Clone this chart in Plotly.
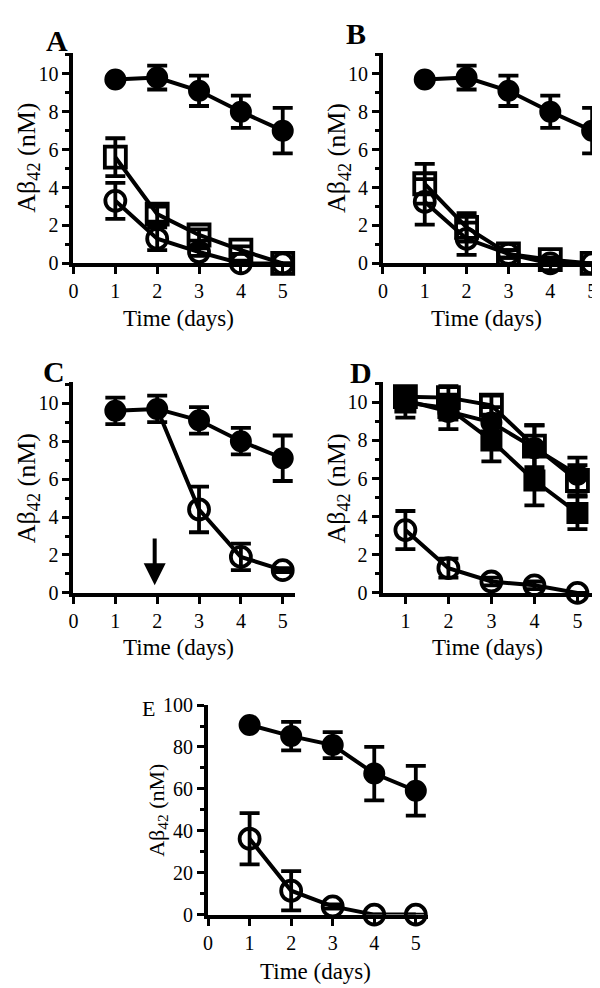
import plotly.graph_objects as go

W, H = 600, 988
days = [1, 2, 3, 4, 5]

# Panel A
a_filled = [9.7, 9.8, 9.1, 8.0, 7.0]
a_filled_err = [0.0, 0.63, 0.8, 0.85, 1.2]
a_sq = [5.6, 2.6, 1.5, 0.7, 0.0]
a_sq_err = [1.0, 0.4, 0.3, 0.2, 0.0]
a_circ = [3.3, 1.3, 0.6, 0.0, 0.0]
a_circ_err = [0.95, 0.6, 0.2, 0.1, 0.0]

# Panel B
b_filled = [9.7, 9.8, 9.1, 8.0, 7.0]
b_filled_err = [0.0, 0.63, 0.8, 0.85, 1.2]
b_sq = [4.2, 1.9, 0.5, 0.2, 0.0]
b_sq_err = [1.05, 0.75, 0.2, 0.1, 0.0]
b_circ = [3.25, 1.3, 0.5, 0.0, 0.0]
b_circ_err = [1.2, 0.85, 0.2, 0.1, 0.0]

# Panel C
c_filled = [9.6, 9.7, 9.1, 8.0, 7.1]
c_filled_err = [0.7, 0.7, 0.7, 0.7, 1.2]
c_open_days = [2, 3, 4, 5]
c_open = [9.7, 4.4, 1.9, 1.2]
c_open_err = [0.0, 1.2, 0.7, 0.1]
c_arrow_day = 1.94
c_arrow_from, c_arrow_to = 2.95, 0.4

# Panel D
d_fsq = [10.0, 9.7, 8.0, 5.9, 4.2]
d_fsq_err = [0.8, 0.6, 1.1, 1.3, 0.85]
d_osq = [10.3, 10.25, 9.85, 7.7, 5.9]
d_osq_err = [0.5, 0.6, 0.5, 1.1, 0.8]
d_fci = [10.1, 9.5, 8.95, 7.6, 6.2]
d_fci_err = [0.5, 0.9, 0.8, 1.2, 0.9]
d_oci = [3.3, 1.3, 0.6, 0.4, 0.0]
d_oci_err = [1.0, 0.5, 0.2, 0.2, 0.0]

# Panel E
e_filled = [90.5, 85.2, 80.9, 67.3, 59.1]
e_filled_err = [0.0, 6.8, 6.2, 12.8, 11.9]
e_open = [36.2, 11.4, 3.9, 0.0, 0.0]
e_open_err = [12.2, 9.4, 1.0, 0.0, 0.0]

x_ticks_full = [0, 1, 2, 3, 4, 5]
y_ticks_small = [0, 2, 4, 6, 8, 10]
y_ticks_big = [0, 20, 40, 60, 80, 100]
xtitle = "Time (days)"
ytitle = "Aβ<sub>42</sub> (nM)"
letters = ["A", "B", "C", "D", "E"]

FONT = "Liberation Serif"
LW = 4


def px_x(p):
    return p / W


def px_y(p):
    return 1 - p / H


def trace(x, y, err, sym, ax, size=None):
    filled = sym in ("circle", "square")
    ms = size if size is not None else (20 if filled else 20)
    return go.Scatter(
        x=x, y=y, xaxis="x" + ax, yaxis="y" + ax, mode="lines+markers",
        line=dict(color="black", width=LW),
        marker=dict(symbol=sym, size=ms, color="black", opacity=1,
                    line=dict(color="black", width=2 if filled else 3.8)),
        error_y=dict(type="data", array=err, visible=True, color="black",
                     thickness=3.8, width=10),
        cliponaxis=False, showlegend=False, hoverinfo="skip",
    )


fig = go.Figure()
# A
fig.add_trace(trace(days, a_sq, a_sq_err, "square-open", "", 21))
fig.add_trace(trace(days, a_circ, a_circ_err, "circle-open", ""))
fig.add_trace(trace(days, a_filled, a_filled_err, "circle", ""))
# B
fig.add_trace(trace(days, b_sq, b_sq_err, "square-open", "2", 21))
fig.add_trace(trace(days, b_circ, b_circ_err, "circle-open", "2"))
fig.add_trace(trace(days, b_filled, b_filled_err, "circle", "2"))
# C
t = trace(c_open_days, c_open, c_open_err, "circle-open", "3")
t.marker.size = [0, 20, 20, 20]
t.marker.opacity = 1
fig.add_trace(t)
fig.add_trace(trace(days, c_filled, c_filled_err, "circle", "3"))
# D
fig.add_trace(trace(days, d_oci, d_oci_err, "circle-open", "4"))
fig.add_trace(trace(days, d_fsq, d_fsq_err, "square", "4", 20))
fig.add_trace(trace(days, d_osq, d_osq_err, "square-open", "4", 21))
fig.add_trace(trace(days, d_fci, d_fci_err, "circle", "4"))
# E
fig.add_trace(trace(days, e_open, e_open_err, "circle-open", "5"))
fig.add_trace(trace(days, e_filled, e_filled_err, "circle", "5"))

tickfont = dict(family=FONT, size=20, color="black")


def xaxis(dom, rng, anchor, tickvals):
    return dict(domain=dom, range=rng, anchor=anchor, showline=True, linewidth=LW,
                linecolor="black", ticks="outside", ticklen=7, tickwidth=3,
                tickcolor="black", tickvals=tickvals, showgrid=False, zeroline=False,
                tickfont=tickfont, fixedrange=True)


def yaxis(dom, rng, anchor, tickvals, minor_dtick):
    return dict(domain=dom, range=rng, anchor=anchor, showline=True, linewidth=LW,
                linecolor="black", ticks="outside", ticklen=7, tickwidth=3,
                tickcolor="black", tickvals=tickvals, showgrid=False, zeroline=False,
                tickfont=tickfont, fixedrange=True,
                minor=dict(ticks="outside", ticklen=4, tickwidth=3, tickcolor="black",
                           dtick=minor_dtick, tick0=0, showgrid=False))


# pixel geometry
A_x = [px_x(61), px_x(61 + 5.3 * 42.2)]
B_x = [px_x(373), px_x(373 + 5.2 * 42.2)]
top_y = [px_y(250), px_y(250 - 11.1 * 19.4)]
mid_y = [px_y(587), px_y(587 - 11.1 * 19.4)]
D_x = [px_x(372.7), px_x(590)]
E_x = [px_x(196.7), px_x(196.7 + 5.3 * 41.9)]
E_y = [px_y(916), px_y(701.7)]

fig.update_layout(
    width=W, height=H, margin=dict(l=0, r=0, t=0, b=0),
    paper_bgcolor="white", plot_bgcolor="white",
    font=dict(family=FONT, color="black"),
    xaxis=xaxis(A_x, [0, 5.3], "y", x_ticks_full),
    yaxis=yaxis(top_y, [0, 11.1], "x", y_ticks_small, 1),
    xaxis2=xaxis(B_x, [0, 5.2], "y2", x_ticks_full),
    yaxis2=yaxis(top_y, [0, 11.1], "x2", y_ticks_small, 1),
    xaxis3=xaxis(A_x, [0, 5.3], "y3", x_ticks_full),
    yaxis3=yaxis(mid_y, [0, 11.1], "x3", y_ticks_small, 1),
    xaxis4=xaxis(D_x, [0.47, 5.48], "y4", x_ticks_full[1:]),
    yaxis4=yaxis(mid_y, [0, 11.05], "x4", y_ticks_small, 1),
    xaxis5=xaxis(E_x, [0, 5.3], "y5", x_ticks_full),
    yaxis5=yaxis(E_y, [0, 100], "x5", y_ticks_big, 10),
)

ann = []
# x titles
for cx, cy in [(167, 306), (477, 306), (167, 643), (478, 643), (305, 974)]:
    ann.append(dict(x=px_x(cx), y=px_y(cy), xref="paper", yref="paper", text=xtitle,
                    showarrow=False, xanchor="center", yanchor="middle",
                    font=dict(family=FONT, size=23, color="black")))
# y titles
for cx, cy, fs in [(15, 142, 26), (328, 142, 26), (15, 480, 26), (328, 480, 26), (146, 809, 22)]:
    ann.append(dict(x=px_x(cx), y=px_y(cy), xref="paper", yref="paper", text=ytitle,
                    showarrow=False, xanchor="center", yanchor="middle", textangle=-90,
                    font=dict(family=FONT, size=fs, color="black")))
# panel letters
for (cx, cy), letter, bold, fs in zip([(44, 22), (346, 15), (41, 361), (351, 362), (137, 705)],
                                      letters, [True, True, True, True, False],
                                      [30, 30, 30, 30, 22]):
    ann.append(dict(x=px_x(cx), y=px_y(cy), xref="paper", yref="paper",
                    text=f"<b>{letter}</b>" if bold else letter,
                    showarrow=False, xanchor="center", yanchor="middle",
                    font=dict(family=FONT, size=fs, color="black")))
# arrow in C
ann.append(dict(x=c_arrow_day, y=c_arrow_to, ax=c_arrow_day, ay=c_arrow_from,
                xref="x3", yref="y3", axref="x3", ayref="y3", text="",
                showarrow=True, arrowhead=2, arrowsize=1.1, arrowwidth=4,
                arrowcolor="black"))
fig.update_layout(annotations=ann)

fig.write_html("out.html")
